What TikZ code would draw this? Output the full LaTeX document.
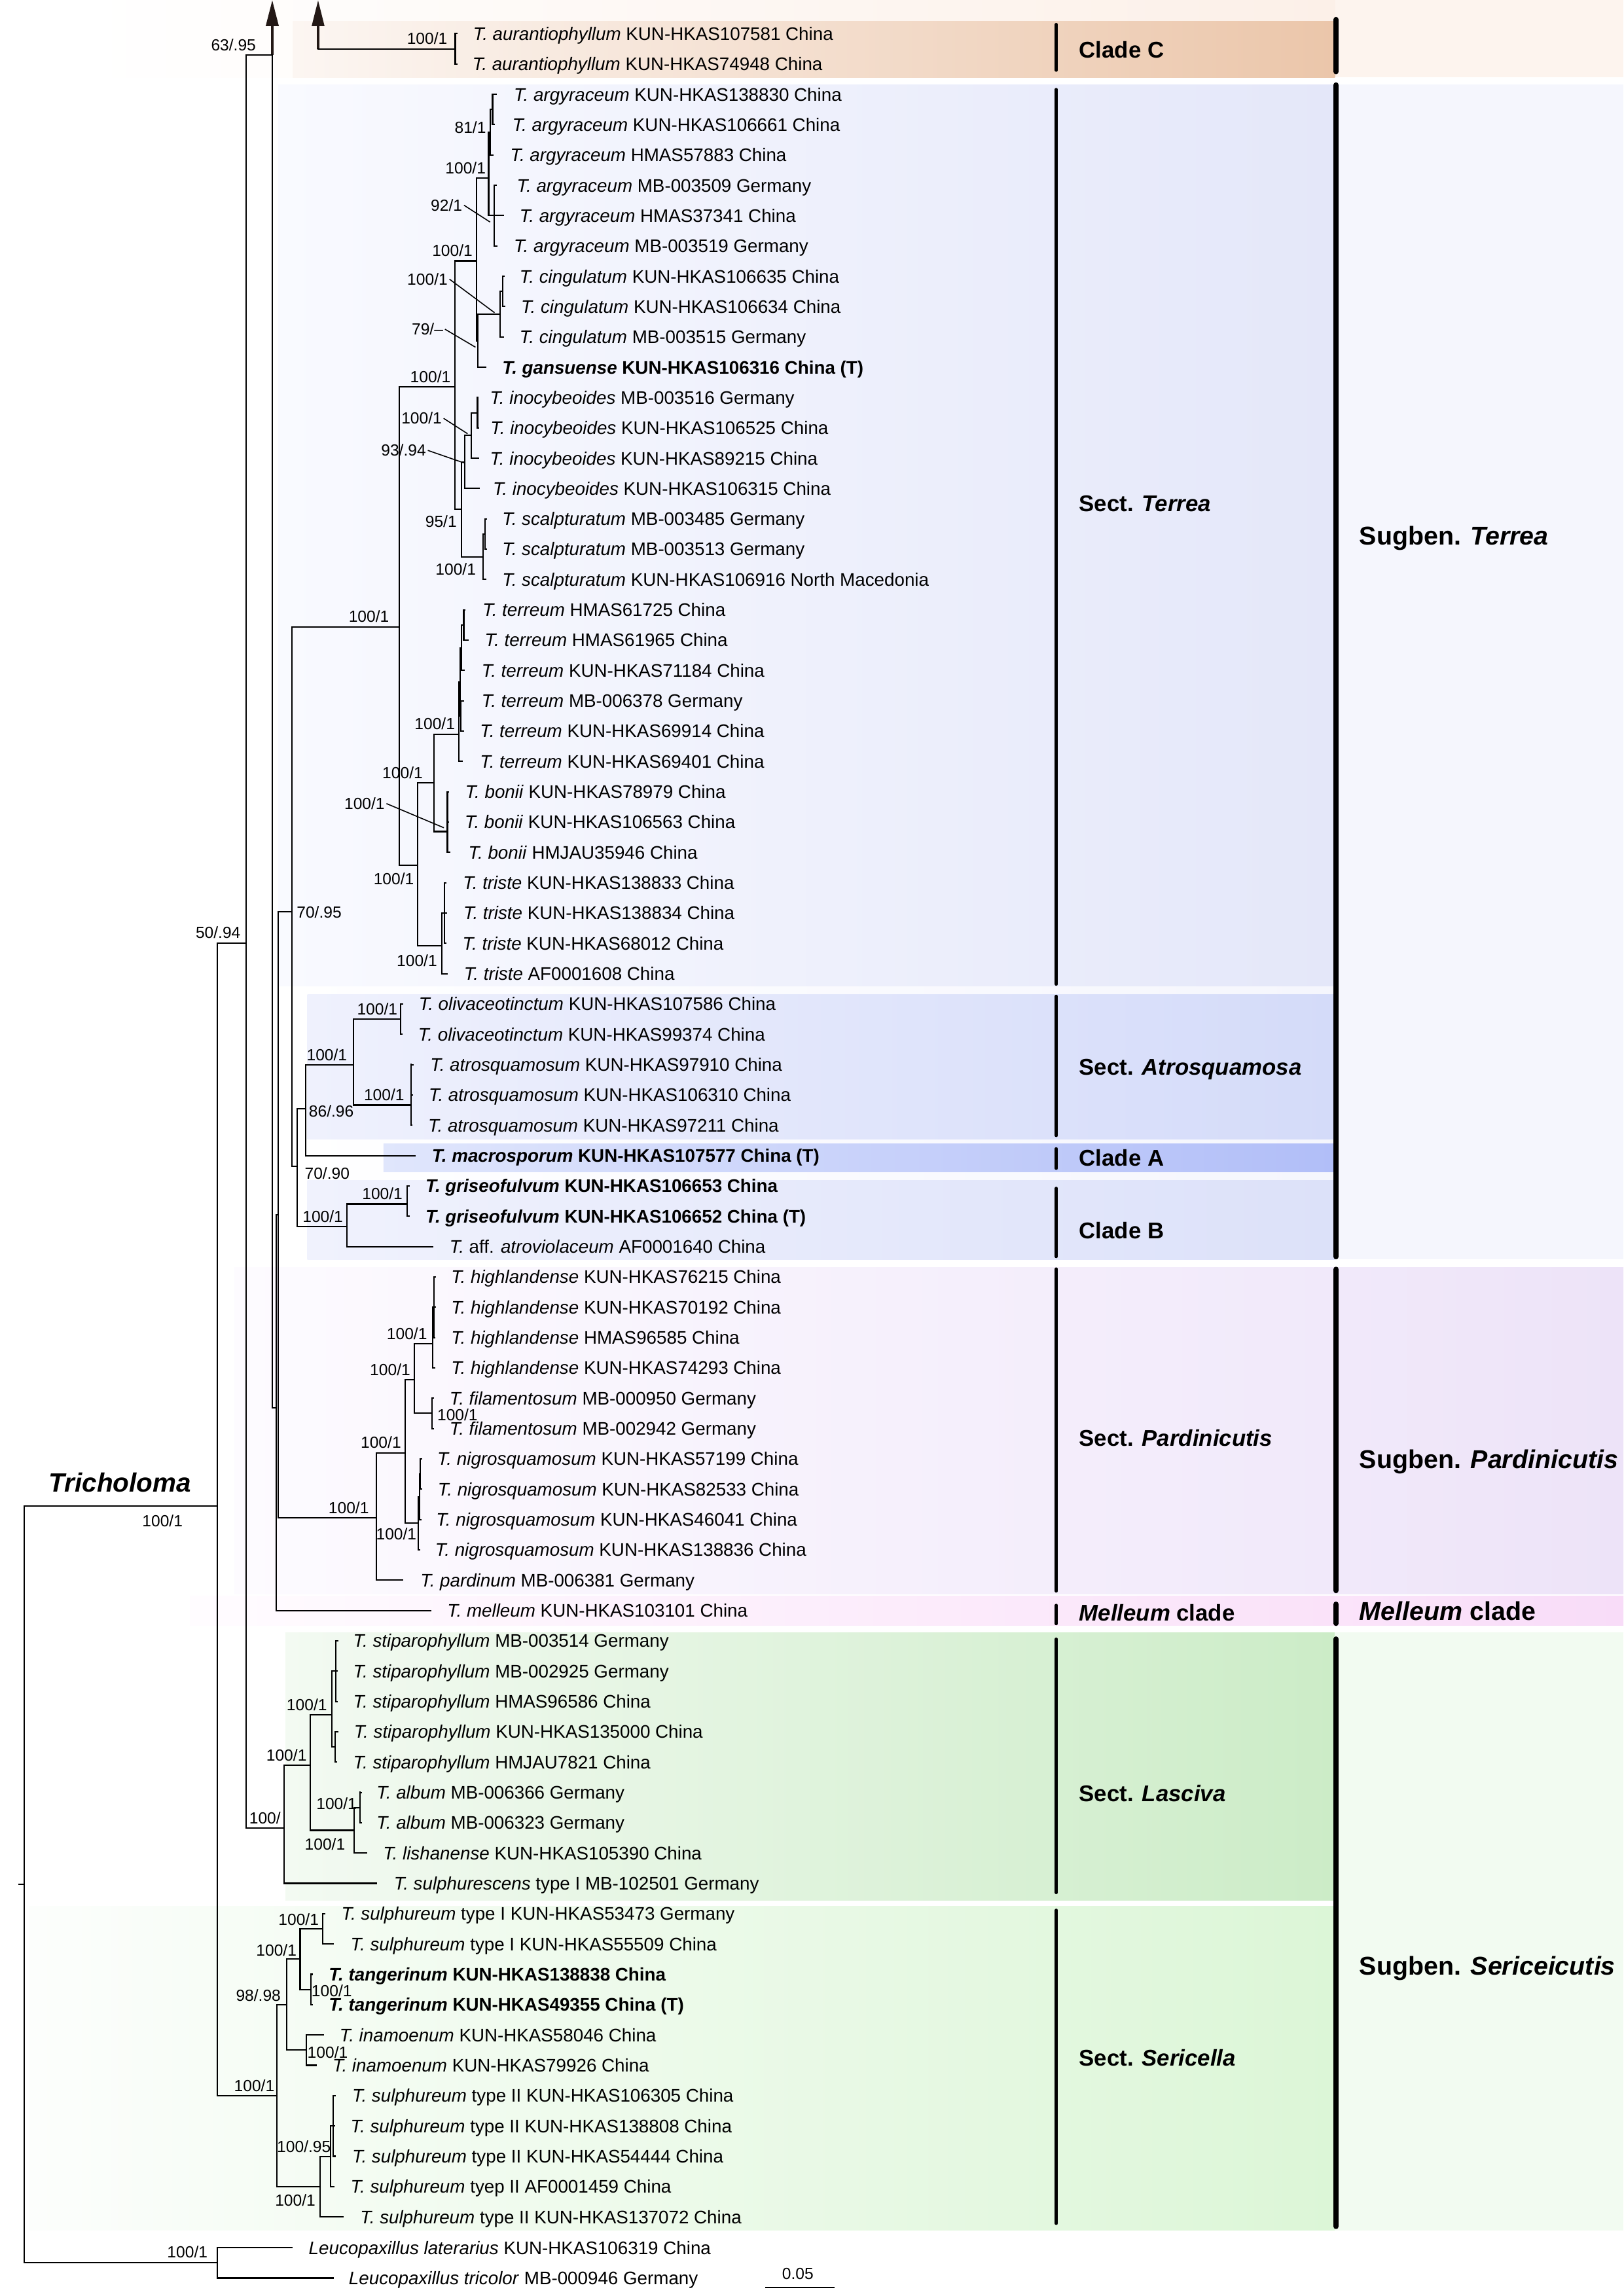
\documentclass[tikz,border=0pt]{standalone}
\usepackage{fontspec}
\setmainfont{Liberation Sans}
\definecolor{cTopR}{HTML}{FDF4EE}
\definecolor{cTopM}{HTML}{FCF0E8}
\definecolor{cCl}{HTML}{FCF6F2}
\definecolor{cCr}{HTML}{EBC6AA}
\definecolor{cTbase}{HTML}{F5F6FD}
\definecolor{cTl}{HTML}{F9FAFF}
\definecolor{cTr}{HTML}{E4E7F9}
\definecolor{cAtl}{HTML}{EFF1FD}
\definecolor{cAtr}{HTML}{D4DBF9}
\definecolor{cAl}{HTML}{E0E6FC}
\definecolor{cAr}{HTML}{B1BEF8}
\definecolor{cBl}{HTML}{F0F2FD}
\definecolor{cBr}{HTML}{DCE1F9}
\definecolor{cPl}{HTML}{FDFBFF}
\definecolor{cPr}{HTML}{F1E9FA}
\definecolor{cPRl}{HTML}{F1E9FA}
\definecolor{cPRr}{HTML}{EDE3F8}
\definecolor{cMl}{HTML}{FFFCFF}
\definecolor{cMr}{HTML}{FAE2F9}
\definecolor{cMRl}{HTML}{FBE4FA}
\definecolor{cMRr}{HTML}{F8DCF8}
\definecolor{cLl}{HTML}{F3FAF2}
\definecolor{cLr}{HTML}{CCECC7}
\definecolor{cSl}{HTML}{FCFEFC}
\definecolor{cSr}{HTML}{DCF6D7}
\definecolor{cSR}{HTML}{F2FBF1}
\definecolor{arrowc}{HTML}{231815}
\tikzset{
  br/.style={line width=0.6pt, line cap=rect, black},
  pt/.style={line width=0.45pt, black},
  tx/.style={anchor=west, inner sep=0pt, font=\fontsize{7.9}{9}\selectfont, text height=5.66pt, text depth=0pt},
  bs/.style={inner sep=0pt, font=\fontsize{7}{8}\selectfont, text height=5pt, text depth=0pt},
  sect/.style={anchor=west, inner sep=0pt, font=\fontsize{9.9}{11}\selectfont\bfseries, text height=7.1pt, text depth=0pt},
  subg/.style={anchor=west, inner sep=0pt, font=\fontsize{11.2}{13}\selectfont\bfseries, text height=8pt, text depth=0pt},
  thinbar/.style={line width=1.33pt, line cap=round, black},
  thickbar/.style={line width=2.35pt, line cap=round, black},
  shaft/.style={line width=1pt, arrowc},
}
\newcommand\taxon[5]{%
  \pgfmathsetmacro\taxy{23+20.716*(#1-1)}%
  \draw[br] (#2,\taxy) -- (#3,\taxy);
  \node[tx] (t#1) at (#4,\taxy) {#5};}
\newcommand\cladeat[6]{%
  \draw[br] (#2,#6) -- (#3,#6) (#3,#4) -- (#3,#5);
  \coordinate (#1) at (#3,#6);}
\newcommand\clade[5]{%
  \pgfmathsetmacro\cladey{(#4+#5)/2}%
  \cladeat{#1}{#2}{#3}{#4}{#5}{\cladey}}
\begin{document}
\begin{tikzpicture}[x=0.22363mm, y=-0.22363mm]
\useasboundingbox (0,0) rectangle (1109,1568.6);
\fill[white] (0,0) rectangle (1109,1568.6);
% ---------- background bands ----------
\fill[cTopR] (911.9,0) rectangle (1109,52.9);
\shade[left color=white, right color=cTopM] (58,0) rectangle (911.9,52.9);
\shade[left color=cCl, right color=cCr] (200,14.5) rectangle (911.9,52.9);
\shade[left color=white, right color=cTbase] (190,57.8) rectangle (911.9,860.5);
\fill[cTbase] (911.9,57.8) rectangle (1109,860.5);
\shade[left color=cTl, right color=cTr] (190,57.8) rectangle (911.9,673.8);
\shade[left color=cAtl, right color=cAtr] (210,679.6) rectangle (911.9,778.1);
\shade[left color=cAl, right color=cAr] (262,781.5) rectangle (911.9,800.7);
\shade[left color=cBl, right color=cBr] (210,806.4) rectangle (911.9,860.5);
\shade[left color=cPl, right color=cPr] (160,865.7) rectangle (911.9,1089);
\shade[left color=cPRl, right color=cPRr] (911.9,865.7) rectangle (1109,1089);
\shade[left color=cMl, right color=cMr] (130,1090.3) rectangle (911.9,1110.5);
\shade[left color=cMRl, right color=cMRr] (911.9,1090.3) rectangle (1109,1110.5);
\shade[left color=cLl, right color=cLr] (195,1115.2) rectangle (911.9,1298.3);
\shade[left color=cSl, right color=cSr] (20,1302.2) rectangle (911.9,1523.7);
\fill[cSR] (911.9,1115.2) rectangle (1109,1523.7);
% ---------- bars ----------
\draw[thinbar] (721.6,16.7) -- (721.6,48);
\draw[thinbar] (721.6,61.1) -- (721.6,672.4);
\draw[thinbar] (721.6,680.6) -- (721.6,775.8);
\draw[thinbar] (721.6,784.8) -- (721.6,798.2);
\draw[thinbar] (721.6,811.8) -- (721.6,858.5);
\draw[thinbar] (721.6,866.9) -- (721.6,1087);
\draw[thinbar] (721.6,1096.7) -- (721.6,1109.3);
\draw[thinbar] (721.6,1119.8) -- (721.6,1293);
\draw[thinbar] (721.6,1305) -- (721.6,1519);
\draw[thickbar] (912.7,13.4) -- (912.7,48.9);
\draw[thickbar] (912.7,58.1) -- (912.7,858.5);
\draw[thickbar] (912.7,867.2) -- (912.7,1086.6);
\draw[thickbar] (912.7,1096) -- (912.7,1109);
\draw[thickbar] (912.7,1119.8) -- (912.7,1521);
% ---------- group labels ----------
\node[sect] (gC) at (736.9,34) {Clade C};
\node[sect] (gT) at (736.9,344) {Sect. \textit{Terrea}};
\node[subg] (sT) at (928.4,366) {Sugben. \textit{Terrea}};
\node[sect] (gAt) at (736.9,729) {Sect. \textit{Atrosquamosa}};
\node[sect] (gA) at (736.9,791) {Clade A};
\node[sect] (gB) at (736.9,840.5) {Clade B};
\node[sect] (gP) at (736.9,982.2) {Sect. \textit{Pardinicutis}};
\node[subg] (sP) at (928.4,997.1) {Sugben. \textit{Pardinicutis}};
\node[sect] (gM) at (736.9,1101.8) {\textit{Melleum} clade};
\node[subg] (sM) at (928.4,1100.5) {\textit{Melleum} clade};
\node[sect] (gL) at (736.9,1225) {Sect. \textit{Lasciva}};
\node[sect] (gS) at (736.9,1406) {Sect. \textit{Sericella}};
\node[subg] (sS) at (928.4,1343) {Sugben. \textit{Sericeicutis}};
% ---------- arrows ----------
\draw[shaft] (186,37.5) -- (186,16);
\fill[arrowc] (181.5,17.8) -- (186,0.3) -- (190.5,17.8) -- cycle;
\draw[shaft] (217.3,33.35) -- (217.3,16);
\fill[arrowc] (212.9,17.8) -- (217.3,0.3) -- (221.7,17.8) -- cycle;
% ---------- internal nodes ----------
\clade{nC}{217.3}{311}{23.0}{43.7}
\clade{na1}{335}{336.5}{64.4}{85.1}
\clade{na2}{333.8}{335}{74.75}{105.9}
\clade{na3}{333.8}{337.5}{126.6}{168.0}
\cladeat{naroot}{325.4}{333.8}{90.3}{147.3}{121.7}
\clade{nc1}{341.8}{343.5}{188.7}{209.4}
\clade{nc2}{326.5}{341.8}{199.05}{230.2}
\clade{ng79}{325.4}{326.5}{214.6}{250.9}
\cladeat{nagci}{310.8}{325.4}{121.7}{232.75}{178.2}
\clade{nb1}{321.9}{326.2}{271.6}{292.3}
\clade{nb2}{317.4}{321.9}{281.95}{313.0}
\clade{nb3}{315.4}{317.4}{297.5}{333.7}
\clade{ns1}{329.8}{331.3}{354.5}{375.2}
\clade{ns2}{315.4}{329.8}{364.85}{395.9}
\clade{nb4}{310.8}{315.4}{315.6}{380.4}
\cladeat{nT1}{272.8}{310.8}{178.2}{348.0}{264.3}
\clade{nt4}{315.3}{316.8}{416.6}{437.3}
\clade{nt2}{314.3}{315.3}{426.95}{458.0}
\clade{nt3}{314.3}{314.8}{478.8}{499.5}
\clade{nt1}{313.3}{314.3}{442.5}{489.15}
\cladeat{ntr}{296.6}{313.3}{465.8}{520.2}{501.5}
\cladeat{nbo}{296.6}{305.6}{540.9}{582.3}{568.1}
\cladeat{ntb}{285.1}{296.6}{501.5}{568.1}{534.8}
\clade{ntr1}{301.8}{303.8}{603.0}{644.5}
\cladeat{ntri}{285.1}{301.8}{623.75}{665.2}{646}
\cladeat{ntbt}{272.8}{285.1}{534.8}{646}{591.3}
\cladeat{nTR0}{199.5}{272.8}{264.3}{591.3}{428.3}
\clade{nol}{241.3}{273.5}{685.9}{706.6}
\cladeat{natr}{241.3}{280.9}{727.3}{768.8}{755}
\cladeat{noa}{209}{241.3}{696.25}{755}{727.5}
\cladeat{nn86}{203}{209}{727.5}{789.5}{757.5}
\cladeat{ngr}{237}{278.3}{810.2}{830.9}{822.5}
\cladeat{ngb}{203}{237}{822.5}{851.6}{837.9}
\cladeat{nn70b}{199.5}{203}{757.5}{837.9}{796.8}
\cladeat{nN70}{190.2}{199.5}{428.3}{796.8}{622.7}
\clade{nh1}{295.7}{296.3}{872.4}{913.8}
\cladeat{nhl}{282.9}{295.7}{893.1}{934.5}{918.1}
\clade{nfi}{282.9}{295}{955.2}{975.9}
\cladeat{nhf}{276.7}{282.9}{918.1}{965.55}{942.6}
\clade{nn1}{286.6}{287.2}{996.7}{1017.4}
\clade{nn2}{285.6}{286.6}{1007.05}{1038.1}
\clade{nni}{276.7}{285.6}{1022.6}{1058.8}
\cladeat{nhn}{257.3}{276.7}{942.6}{1040.7}{992.5}
\cladeat{npa}{190.2}{257.3}{992.5}{1079.5}{1036.9}
\cladeat{nQ}{188.8}{190.2}{622.7}{1036.9}{829.8}
\cladeat{nR}{186}{188.8}{829.8}{1100.2}{962}
\cladeat{nS}{168.1}{186}{37.5}{962}{37.5}
\clade{nst1}{226.7}{229.5}{1121.0}{1162.4}
\clade{nst2}{226.7}{229}{1183.1}{1203.8}
\cladeat{nst}{212}{226.7}{1141.7}{1193.45}{1171.5}
\clade{nal}{241.9}{246}{1224.5}{1245.3}
\clade{nal2}{212}{241.9}{1234.9}{1266.0}
\cladeat{nsa}{194.2}{212}{1171.5}{1250.45}{1206}
\cladeat{nla}{168.1}{194.2}{1206}{1286.7}{1249}
\cladeat{nP50}{148.3}{168.1}{37.5}{1249}{644.2}
\clade{ns1a}{205}{220.6}{1307.4}{1328.1}
\clade{ntg}{205}{212.4}{1348.8}{1369.6}
\clade{ns5}{196}{205}{1317.75}{1359.2}
\clade{nina}{196}{209.4}{1390.3}{1411.0}
\clade{nn98}{189}{196}{1338.5}{1400.65}
\clade{ns2a}{226}{227.5}{1431.7}{1473.1}
\clade{ns2b}{218.8}{226}{1452.4}{1493.9}
\clade{ns2c}{189}{218.8}{1473.15}{1514.6}
\clade{nse}{148.3}{189}{1369.6}{1493.9}
\cladeat{nTRc}{16.6}{148.3}{644.2}{1431.75}{1029}
\clade{nLeu}{16.6}{148.3}{1535.6}{1556.3}
\cladeat{nroot}{13}{16.6}{1029}{1545.95}{1287.3}
% ---------- tips ----------
\taxon{1}{311}{312}{322.9}{\textit{T. aurantiophyllum} KUN-HKAS107581 China}
\taxon{2}{311}{312}{322.5}{\textit{T. aurantiophyllum} KUN-HKAS74948 China}
\taxon{3}{336.5}{338.8}{350.8}{\textit{T. argyraceum} KUN-HKAS138830 China}
\taxon{4}{336.5}{337.5}{349.7}{\textit{T. argyraceum} KUN-HKAS106661 China}
\taxon{5}{335}{336.7}{348.3}{\textit{T. argyraceum} HMAS57883 China}
\taxon{6}{337.5}{339}{352.8}{\textit{T. argyraceum} MB-003509 Germany}
\taxon{7}{337.5}{343.8}{354.7}{\textit{T. argyraceum} HMAS37341 China}
\taxon{8}{337.5}{339.5}{350.8}{\textit{T. argyraceum} MB-003519 Germany}
\taxon{9}{343.5}{344.3}{354.7}{\textit{T. cingulatum} KUN-HKAS106635 China}
\taxon{10}{343.5}{344.8}{355.7}{\textit{T. cingulatum} KUN-HKAS106634 China}
\taxon{11}{341.8}{343.8}{354.7}{\textit{T. cingulatum} MB-003515 Germany}
\taxon{12}{326.5}{331.8}{342.8}{\bfseries\textit{T. gansuense} KUN-HKAS106316 China (T)}
\taxon{13}{326.2}{326.4}{334.4}{\textit{T. inocybeoides} MB-003516 Germany}
\taxon{14}{326.2}{326.8}{334.8}{\textit{T. inocybeoides} KUN-HKAS106525 China}
\taxon{15}{321.9}{326.8}{334.4}{\textit{T. inocybeoides} KUN-HKAS89215 China}
\taxon{16}{317.4}{327.4}{336.4}{\textit{T. inocybeoides} KUN-HKAS106315 China}
\taxon{17}{331.3}{332}{342.8}{\textit{T. scalpturatum} MB-003485 Germany}
\taxon{18}{331.3}{332}{342.8}{\textit{T. scalpturatum} MB-003513 Germany}
\taxon{19}{329.8}{331.8}{342.8}{\textit{T. scalpturatum} KUN-HKAS106916 North Macedonia}
\taxon{20}{316.8}{317.5}{329.4}{\textit{T. terreum} HMAS61725 China}
\taxon{21}{316.8}{319.7}{330.9}{\textit{T. terreum} HMAS61965 China}
\taxon{22}{315.3}{317}{328.7}{\textit{T. terreum} KUN-HKAS71184 China}
\taxon{23}{314.8}{316.5}{328.7}{\textit{T. terreum} MB-006378 Germany}
\taxon{24}{314.8}{316.5}{327.6}{\textit{T. terreum} KUN-HKAS69914 China}
\taxon{25}{313.3}{315.7}{327.6}{\textit{T. terreum} KUN-HKAS69401 China}
\taxon{26}{305.6}{306.2}{317.5}{\textit{T. bonii} KUN-HKAS78979 China}
\taxon{27}{305.6}{306.2}{317.2}{\textit{T. bonii} KUN-HKAS106563 China}
\taxon{28}{305.6}{307.3}{319.7}{\textit{T. bonii} HMJAU35946 China}
\taxon{29}{303.8}{304.3}{316}{\textit{T. triste} KUN-HKAS138833 China}
\taxon{30}{303.8}{305}{316.3}{\textit{T. triste} KUN-HKAS138834 China}
\taxon{31}{303.8}{304.3}{315.7}{\textit{T. triste} KUN-HKAS68012 China}
\taxon{32}{301.8}{305.3}{316.7}{\textit{T. triste} AF0001608 China}
\taxon{33}{273.5}{274.8}{285.8}{\textit{T. olivaceotinctum} KUN-HKAS107586 China}
\taxon{34}{273.5}{274.5}{285.4}{\textit{T. olivaceotinctum} KUN-HKAS99374 China}
\taxon{35}{280.9}{282}{293.6}{\textit{T. atrosquamosum} KUN-HKAS97910 China}
\taxon{36}{280.9}{281.5}{292.6}{\textit{T. atrosquamosum} KUN-HKAS106310 China}
\taxon{37}{280.9}{281.3}{292.2}{\textit{T. atrosquamosum} KUN-HKAS97211 China}
\taxon{38}{209}{283.5}{294.8}{\bfseries\textit{T. macrosporum} KUN-HKAS107577 China (T)}
\taxon{39}{278.3}{279.3}{290.4}{\bfseries\textit{T. griseofulvum} KUN-HKAS106653 China}
\taxon{40}{278.3}{279.3}{290.4}{\bfseries\textit{T. griseofulvum} KUN-HKAS106652 China (T)}
\taxon{41}{237}{295.4}{306.8}{\textit{T.} aff. \textit{atroviolaceum} AF0001640 China}
\taxon{42}{296.3}{297.5}{307.9}{\textit{T. highlandense} KUN-HKAS76215 China}
\taxon{43}{296.3}{297.5}{307.9}{\textit{T. highlandense} KUN-HKAS70192 China}
\taxon{44}{296.3}{297}{307.9}{\textit{T. highlandense} HMAS96585 China}
\taxon{45}{295.7}{297}{307.9}{\textit{T. highlandense} KUN-HKAS74293 China}
\taxon{46}{295}{296}{306.8}{\textit{T. filamentosum} MB-000950 Germany}
\taxon{47}{295}{295.8}{306.8}{\textit{T. filamentosum} MB-002942 Germany}
\taxon{48}{287.2}{288}{298.4}{\textit{T. nigrosquamosum} KUN-HKAS57199 China}
\taxon{49}{287.2}{288}{298.8}{\textit{T. nigrosquamosum} KUN-HKAS82533 China}
\taxon{50}{286.6}{287.5}{297.7}{\textit{T. nigrosquamosum} KUN-HKAS46041 China}
\taxon{51}{285.6}{286.5}{297}{\textit{T. nigrosquamosum} KUN-HKAS138836 China}
\taxon{52}{257.3}{275.1}{286.9}{\textit{T. pardinum} MB-006381 Germany}
\taxon{53}{188.8}{294.3}{305.2}{\textit{T. melleum} KUN-HKAS103101 China}
\taxon{54}{229.5}{230.5}{241}{\textit{T. stiparophyllum} MB-003514 Germany}
\taxon{55}{229.5}{230.3}{241}{\textit{T. stiparophyllum} MB-002925 Germany}
\taxon{56}{229.5}{230.3}{241}{\textit{T. stiparophyllum} HMAS96586 China}
\taxon{57}{229}{230.5}{241.5}{\textit{T. stiparophyllum} KUN-HKAS135000 China}
\taxon{58}{229}{230}{241}{\textit{T. stiparophyllum} HMJAU7821 China}
\taxon{59}{246}{247}{257}{\textit{T. album} MB-006366 Germany}
\taxon{60}{246}{247}{257}{\textit{T. album} MB-006323 Germany}
\taxon{61}{241.9}{250.6}{261.4}{\textit{T. lishanense} KUN-HKAS105390 China}
\taxon{62}{194.2}{257}{268.8}{\textit{T. sulphurescens} type I MB-102501 Germany}
\taxon{63}{220.6}{221.9}{232.9}{\textit{T. sulphureum} type I KUN-HKAS53473 Germany}
\taxon{64}{220.6}{227.6}{239.2}{\textit{T. sulphureum} type I KUN-HKAS55509 China}
\taxon{65}{212.4}{213.3}{224.3}{\bfseries\textit{T. tangerinum} KUN-HKAS138838 China}
\taxon{66}{212.4}{213.3}{224.3}{\bfseries\textit{T. tangerinum} KUN-HKAS49355 China (T)}
\taxon{67}{209.4}{221}{231.7}{\textit{T. inamoenum} KUN-HKAS58046 China}
\taxon{68}{209.4}{216}{226.9}{\textit{T. inamoenum} KUN-HKAS79926 China}
\taxon{69}{227.5}{229}{240.3}{\textit{T. sulphureum} type II KUN-HKAS106305 China}
\taxon{70}{227.5}{228.5}{239.2}{\textit{T. sulphureum} type II KUN-HKAS138808 China}
\taxon{71}{227.5}{229}{240.3}{\textit{T. sulphureum} type II KUN-HKAS54444 China}
\taxon{72}{226}{228.2}{239.2}{\textit{T. sulphureum} tyep II AF0001459 China}
\taxon{73}{218.8}{234.4}{245.8}{\textit{T. sulphureum} type II KUN-HKAS137072 China}
\pgfmathsetmacro\leuA{23+20.716*73+0.3}
\pgfmathsetmacro\leuB{23+20.716*74+0.3}
\draw[br] (148.3,\leuA) -- (199.6,\leuA);
\node[tx] (t74) at (210.6,\leuA) {\textit{Leucopaxillus laterarius} KUN-HKAS106319 China};
\draw[br] (148.3,\leuB) -- (227.5,\leuB);
\node[tx] (t75) at (238,\leuB) {\textit{Leucopaxillus tricolor} MB-000946 Germany};
% ---------- support values ----------
\node[bs] (bs1) at (159.5,30.5) {63/.95};
\node[bs] (bs2) at (291.8,26.4) {100/1};
\node[bs] (bs3) at (321.3,86.9) {81/1};
\node[bs] (bs4) at (318,114.7) {100/1};
\node[bs] (bs5) at (305,140.2) {92/1};
\node[bs] (bs6) at (309,171.2) {100/1};
\node[bs] (bs7) at (292,190.7) {100/1};
\node[bs] (bs8) at (292,224.9) {79/–};
\node[bs] (bs9) at (294,257.3) {100/1};
\node[bs] (bs10) at (288,285.8) {100/1};
\node[bs] (bs11) at (275.7,307.7) {93/.94};
\node[bs] (bs12) at (301.3,356.2) {95/1};
\node[bs] (bs13) at (311.3,389) {100/1};
\node[bs] (bs14) at (252,421.3) {100/1};
\node[bs] (bs15) at (297,494.5) {100/1};
\node[bs] (bs16) at (275,527.8) {100/1};
\node[bs] (bs17) at (249,549) {100/1};
\node[bs] (bs18) at (269,600.6) {100/1};
\node[bs] (bs19) at (284.8,656.4) {100/1};
\node[bs] (bs20) at (218,623) {70/.95};
\node[bs] (bs21) at (149,637.2) {50/.94};
\node[bs] (bs22) at (257.7,689.3) {100/1};
\node[bs] (bs23) at (223.3,720.5) {100/1};
\node[bs] (bs24) at (262.4,748) {100/1};
\node[bs] (bs25) at (226.3,759) {86/.96};
\node[bs] (bs26) at (223.5,801.4) {70/.90};
\node[bs] (bs27) at (261.2,815.5) {100/1};
\node[bs] (bs28) at (220.5,830.9) {100/1};
\node[bs] (bs29) at (278,911.1) {100/1};
\node[bs] (bs30) at (266.5,935.6) {100/1};
\node[bs] (bs31) at (312.5,966.6) {100/1};
\node[bs] (bs32) at (260.2,985.5) {100/1};
\node[bs] (bs33) at (238.2,1029.9) {100/1};
\node[bs] (bs34) at (270.7,1047.8) {100/1};
\node[bs] (bs35) at (209.6,1164.5) {100/1};
\node[bs] (bs36) at (195.7,1199) {100/1};
\node[bs] (bs37) at (229.9,1232) {100/1};
\node[bs] (bs38) at (181,1242) {100/};
\node[bs] (bs39) at (222,1260) {100/1};
\node[bs] (bs40) at (204,1311.3) {100/1};
\node[bs] (bs41) at (188.8,1332.3) {100/1};
\node[bs] (bs42) at (176.5,1363) {98/.98};
\node[bs] (bs43) at (226.6,1360) {100/1};
\node[bs] (bs44) at (223.8,1402) {100/1};
\node[bs] (bs45) at (173.7,1424.7) {100/1};
\node[bs] (bs46) at (207.6,1466.5) {100/.95};
\node[bs] (bs47) at (201.7,1503) {100/1};
\node[bs] (bs48) at (128,1538.6) {100/1};
\node[bs] (bs49) at (111,1039) {100/1};
% pointer lines
\draw[pt] ([xshift=0.6pt]bs5.east) -- (334.8,151.7);
\draw[pt] ([xshift=0.6pt]bs7.east) -- (337.8,213.6);
\draw[pt] ([xshift=0.6pt]bs8.east) -- (324.8,237.2);
\draw[pt] ([xshift=0.6pt]bs10.east) -- (319.4,296.3);
\draw[pt] ([xshift=0.6pt]bs11.east) -- (316.8,316.2);
\draw[pt] ([xshift=0.6pt]bs17.east) -- (303.2,565.5);
% genus label
\node[inner sep=0pt, font=\fontsize{11.5}{13}\selectfont\bfseries\itshape] (genus) at (82,1012.9) {Tricholoma};
% scale bar
\coordinate (sb1) at (522.8,1562.6);
\coordinate (sb2) at (570.3,1562.6);
\draw[line width=0.6pt] (sb1) -- (sb2);
\node[bs] (sbl) at (545,1553.3) {0.05};
\end{tikzpicture}
\end{document}
